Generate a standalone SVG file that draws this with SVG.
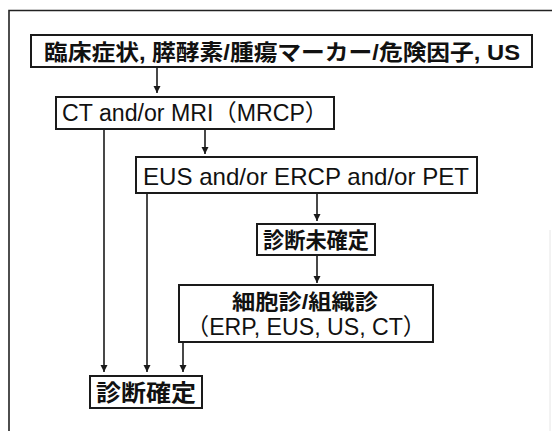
<svg xmlns="http://www.w3.org/2000/svg" width="552" height="431" viewBox="0 0 552 431">
<style>
.box{fill:#fff;stroke:#1a1a1a;stroke-width:2}
.frame{fill:none;stroke:#222;stroke-width:1.6}
.t{font-family:"Liberation Sans","Noto Sans CJK JP",sans-serif;fill:#111;text-anchor:middle}
.b{font-weight:bold}
.edge{fill:none;stroke:#1a1a1a;stroke-width:1.6}
</style>
<defs>
<marker id="ah" viewBox="0 0 7 10" refX="7" refY="5" markerWidth="7" markerHeight="10" markerUnits="userSpaceOnUse" orient="auto">
<path d="M0,1.5 L7,5 L0,8.5 Z" fill="#1a1a1a"/>
</marker>
</defs>
<path class="frame" d="M9,431 V10.5 H552"/>
<line x1="550" y1="230" x2="550" y2="431" stroke="#e6e6e6" stroke-width="1"/>
<g id="connectors">
<line class="edge" x1="157" y1="68" x2="157" y2="93" marker-end="url(#ah)"/>
<line class="edge" x1="205" y1="129" x2="205" y2="154" marker-end="url(#ah)"/>
<line class="edge" x1="317" y1="194" x2="317" y2="221" marker-end="url(#ah)"/>
<line class="edge" x1="317" y1="255" x2="317" y2="283" marker-end="url(#ah)"/>
<line class="edge" x1="104" y1="129" x2="104" y2="372" marker-end="url(#ah)"/>
<line class="edge" x1="147" y1="194" x2="147" y2="372" marker-end="url(#ah)"/>
<line class="edge" x1="183" y1="343" x2="183" y2="372" marker-end="url(#ah)"/>
</g>
<g id="n1">
<rect class="box" x="31" y="35" width="501" height="32"/>
<text class="t b" x="282" y="60" font-size="22" textLength="476" lengthAdjust="spacingAndGlyphs">臨床症状, 膵酵素/腫瘍マーカー/危険因子, US</text>
</g>
<g id="n2">
<rect class="box" x="56" y="97" width="278" height="32"/>
<text class="t" x="195" y="121" font-size="23" textLength="266" lengthAdjust="spacingAndGlyphs">CT and/or MRI（MRCP）</text>
</g>
<g id="n3">
<rect class="box" x="136" y="157" width="341" height="36"/>
<text class="t" x="306" y="185" font-size="24" textLength="326" lengthAdjust="spacingAndGlyphs">EUS and/or ERCP and/or PET</text>
</g>
<g id="n4">
<rect class="box" x="257" y="224" width="118" height="31"/>
<text class="t b" x="316" y="248" font-size="22" textLength="106" lengthAdjust="spacingAndGlyphs">診断未確定</text>
</g>
<g id="n5">
<rect class="box" x="179" y="285" width="254" height="57"/>
<text class="t b" x="305" y="309" font-size="21" textLength="146" lengthAdjust="spacingAndGlyphs">細胞診/組織診</text>
<text class="t" x="306" y="335" font-size="23" textLength="240" lengthAdjust="spacingAndGlyphs">（ERP, EUS, US, CT）</text>
</g>
<g id="n6">
<rect class="box" x="90" y="376" width="112" height="32"/>
<text class="t b" x="146" y="401" font-size="23" textLength="100" lengthAdjust="spacingAndGlyphs">診断確定</text>
</g>
</svg>
